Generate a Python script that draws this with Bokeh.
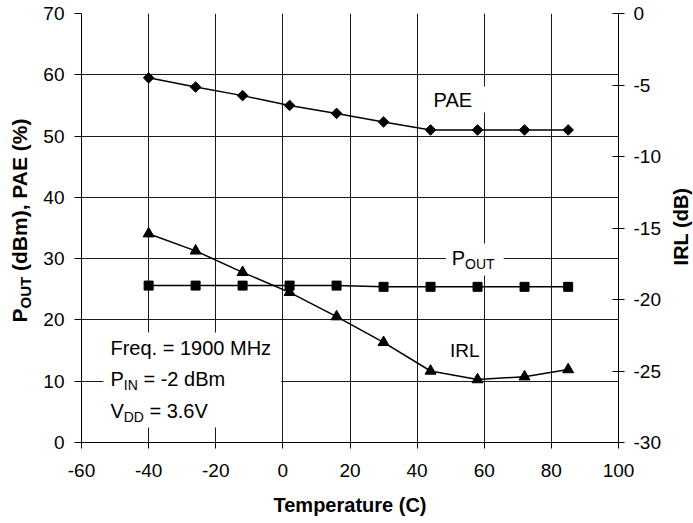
from math import pi
from bokeh.plotting import figure
from bokeh.layouts import row
from bokeh.models import Range1d, LinearAxis, Label, FixedTicker
from bokeh.embed import file_html
from bokeh.resources import INLINE

# ---- data ----
temperature = [-40, -26, -12, 2, 16, 30, 44, 58, 72, 85]
pae = [59.5, 58.0, 56.6, 55.0, 53.7, 52.3, 51.0, 51.0, 51.0, 51.0]
pout = [25.6, 25.6, 25.6, 25.6, 25.6, 25.4, 25.4, 25.4, 25.4, 25.4]
irl = [-15.4, -16.6, -18.1, -19.5, -21.2, -23.0, -25.0, -25.6, -25.4, -24.9]

x_ticks = [-60, -40, -20, 0, 20, 40, 60, 80, 100]
left_ticks = [0, 10, 20, 30, 40, 50, 60, 70]
right_ticks = [-30, -25, -20, -15, -10, -5, 0]

# ---- layout (page pixels) ----
W, H = 693, 523
LW, RW = 40, 26            # side strips holding the rotated titles
FL, FR, FT, FB = 80, 618, 13, 442
X0, X1 = -60, 100
Y0, Y1 = 0, 70

def dx(px):
    return X0 + (px - FL) / (FR - FL) * (X1 - X0)

def dy(py):
    return Y0 + (FB - py) / (FB - FT) * (Y1 - Y0)

FONT = "Liberation Sans"
INK = "#000000"
GRID = "#1a1a1a"
TICK_SIZE = "19px"

p = figure(width=W - LW - RW, height=H, x_range=Range1d(X0, X1), y_range=Range1d(Y0, Y1),
           output_backend="svg", toolbar_location=None,
           min_border_left=FL - LW, min_border_right=(W - RW) - FR,
           min_border_top=FT, min_border_bottom=H - FB)
p.outline_line_color = None
p.background_fill_color = "white"
p.border_fill_color = "white"
p.extra_y_ranges = {"irl": Range1d(-30, 0)}

# axes
p.xaxis.ticker = FixedTicker(ticks=x_ticks)
p.yaxis.ticker = FixedTicker(ticks=left_ticks)
p.xaxis.major_label_overrides = {t: str(t) for t in x_ticks}
p.yaxis.major_label_overrides = {t: str(t) for t in left_ticks}
for ax in (p.xaxis[0], p.yaxis[0]):
    ax.minor_tick_line_color = None
    ax.axis_line_color = INK
    ax.major_tick_line_color = INK
    ax.major_label_text_font = FONT
    ax.major_label_text_font_size = TICK_SIZE
    ax.major_label_text_color = INK
    ax.major_tick_in = 0
p.xaxis.major_tick_out = 6
p.xaxis.major_label_standoff = 15
p.yaxis.major_tick_out = 7
p.yaxis.major_label_standoff = 10

p.xaxis.axis_label = "Temperature (C)"
p.xaxis.axis_label_text_font = FONT
p.xaxis.axis_label_text_font_size = "20px"
p.xaxis.axis_label_text_font_style = "bold"
p.xaxis.axis_label_text_color = INK
p.xaxis.axis_label_standoff = 14

rax = LinearAxis(y_range_name="irl", ticker=FixedTicker(ticks=right_ticks))
rax.major_label_overrides = {t: str(t) for t in right_ticks}
rax.minor_tick_line_color = None
rax.axis_line_color = INK
rax.major_tick_line_color = INK
rax.major_tick_in = 6
rax.major_tick_out = 6
rax.major_label_standoff = 9
rax.major_label_text_font = FONT
rax.major_label_text_font_size = TICK_SIZE
rax.major_label_text_color = INK
p.add_layout(rax, "right")

# grid
p.xgrid.grid_line_color = GRID
p.ygrid.grid_line_color = GRID
p.xgrid.grid_line_width = 1
p.ygrid.grid_line_width = 1

# white backgrounds behind labels (drawn before the series)
box_l = [dx(445), dx(425), dx(102)]
box_r = [dx(503), dx(485), dx(280)]
box_b = [dy(275), dy(112), dy(427)]
box_t = [dy(243), dy(86), dy(332)]
p.quad(left=box_l, right=box_r, bottom=box_b, top=box_t,
       fill_color="white", line_color=None)

# series
p.line(temperature, pae, line_color=INK, line_width=1.5)
p.scatter(temperature, pae, marker="square", angle=pi / 4, size=7.5,
          fill_color=INK, line_color=INK)

p.line(temperature, pout, line_color=INK, line_width=1.5)
p.scatter(temperature, pout, marker="square", size=9,
          fill_color=INK, line_color=INK)

p.line(temperature, irl, line_color=INK, line_width=1.5, y_range_name="irl")
p.scatter(temperature, irl, marker="triangle", size=11,
          fill_color=INK, line_color=INK, y_range_name="irl")

def lab(px, py, text, size, **kw):
    kw.setdefault("text_align", "left")
    kw.setdefault("text_baseline", "middle")
    p.add_layout(Label(x=dx(px), y=dy(py), text=text, text_font=FONT,
                       text_font_size=f"{size}px", text_color=INK, **kw))

# curve labels (y = vertical centre of the capitals)
lab(452, 99, "PAE", 20, text_align="center")
lab(451, 257, "P", 20)
lab(451, 263, "OUT", 14, x_offset=13.3)
lab(464, 350, "IRL", 19, text_align="center")

# condition box
lab(109, 347, "Freq. = 1900 MHz", 20)
lab(109, 378, "P", 20)
lab(109, 384, "IN", 14, x_offset=13.3)
lab(109, 378, "= -2 dBm", 20, x_offset=33.0)
lab(109, 410, "V", 20)
lab(109, 416, "DD", 14, x_offset=13.3)
lab(109, 410, "= 3.6V", 20, x_offset=39.0)

# ---- side strips with the rotated axis titles ----
# (row layouts align the frames, so a strip's frame spans page rows FT..FB)
def strip(width):
    s = figure(width=width, height=H, x_range=Range1d(0, width),
               y_range=Range1d(H - FB, H - FT),
               output_backend="svg", toolbar_location=None,
               x_axis_type=None, y_axis_type=None,
               min_border_left=0, min_border_right=0,
               min_border_top=FT, min_border_bottom=H - FB)
    s.outline_line_color = None
    s.grid.visible = False
    s.background_fill_color = "white"
    s.border_fill_color = "white"
    return s

def vlab(fig, x, py, text, size):
    # rotated text reading upward, its bottom end at page row py
    fig.add_layout(Label(x=x, y=H - py, text=text, text_font=FONT,
                         text_font_size=f"{size}px", text_font_style="bold",
                         text_color=INK, angle=pi / 2,
                         text_align="left", text_baseline="middle"))

left = strip(LW)
MAIN, SUB = 21, 15
start = 322
w_p = 0.667 * MAIN
w_out = 2.111 * SUB
w_space = 0.278 * MAIN
vlab(left, 19, start, "P", MAIN)
vlab(left, 25, start - w_p, "OUT", SUB)
vlab(left, 19, start - w_p - w_out - w_space, "(dBm), PAE (%)", MAIN)

right = strip(RW)
R_SIZE = 20
title_len = 3.888 * R_SIZE
vlab(right, 13, 226 + title_len / 2, "IRL (dB)", R_SIZE)

layout = row(left, p, right, spacing=0)
open("out.html", "w").write(file_html(layout, INLINE))
